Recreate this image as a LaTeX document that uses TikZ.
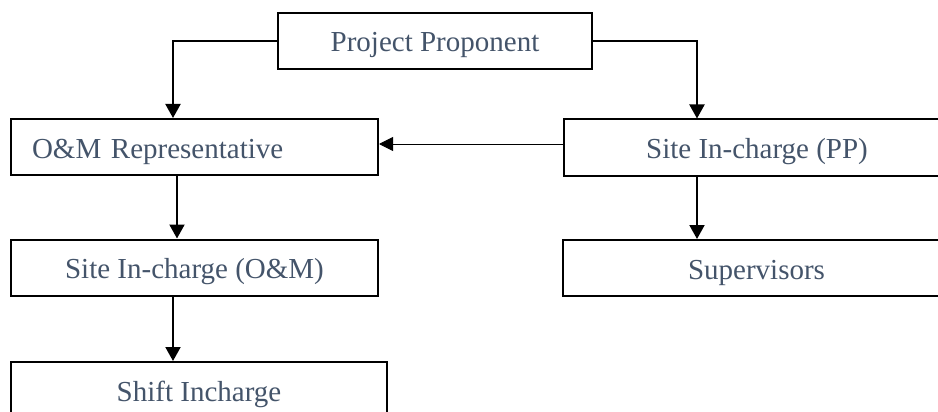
\documentclass[tikz,border=0pt]{standalone}
\usepackage{fontspec}
\setmainfont{Liberation Serif}
\usetikzlibrary{arrows.meta}
\definecolor{txtblue}{HTML}{44546A}
\begin{document}
\begin{tikzpicture}[x=1pt,y=-1pt,
  box/.style={draw=black, line width=2pt, minimum height=56pt, inner sep=0pt,
    text=txtblue, font=\fontsize{29}{34}\selectfont, text height=24pt, text depth=2pt},
  conn/.style={line width=2pt, -{Triangle[length=14pt,width=15pt]}},
  thinconn/.style={line width=1pt, -{Triangle[length=14pt,width=14pt]}}]
\useasboundingbox (0,0) rectangle (938,412);
\clip (0,0) rectangle (938,412);
\node[box, minimum width=314pt] (pp) at (435,41) {Project Proponent};
\node[box, text width=325pt, inner xsep=21pt, align=left] (om) at (194.5,147) {O\&M Representative};
\node[box, minimum width=386pt] (sp) at (757,147.5) {Site In-charge (PP)};
\node[box, minimum width=367pt] (som) at (194.5,267.5) {Site In-charge (O\&M)};
\node[box, minimum width=387pt] (sup) at (756.5,268) {Supervisors};
\node[box, minimum width=376pt] (sh) at (199,390) {Shift Incharge};
\draw[conn] (pp.west) -| ([xshift=-21.5pt]om.north);
\draw[conn] (pp.east) -| ([xshift=-60pt]sp.north);
\draw[conn] ([xshift=-17.5pt]om.south) -- ([xshift=-17.5pt]som.north);
\draw[conn] ([xshift=-21.5pt]som.south) -- ([xshift=-26pt]sh.north);
\draw[conn] ([xshift=-60pt]sp.south) -- ([xshift=-59.5pt]sup.north);
\draw[thinconn] ([yshift=3.5pt]sp.west) -- ([yshift=3pt]om.east);
\end{tikzpicture}
\end{document}
